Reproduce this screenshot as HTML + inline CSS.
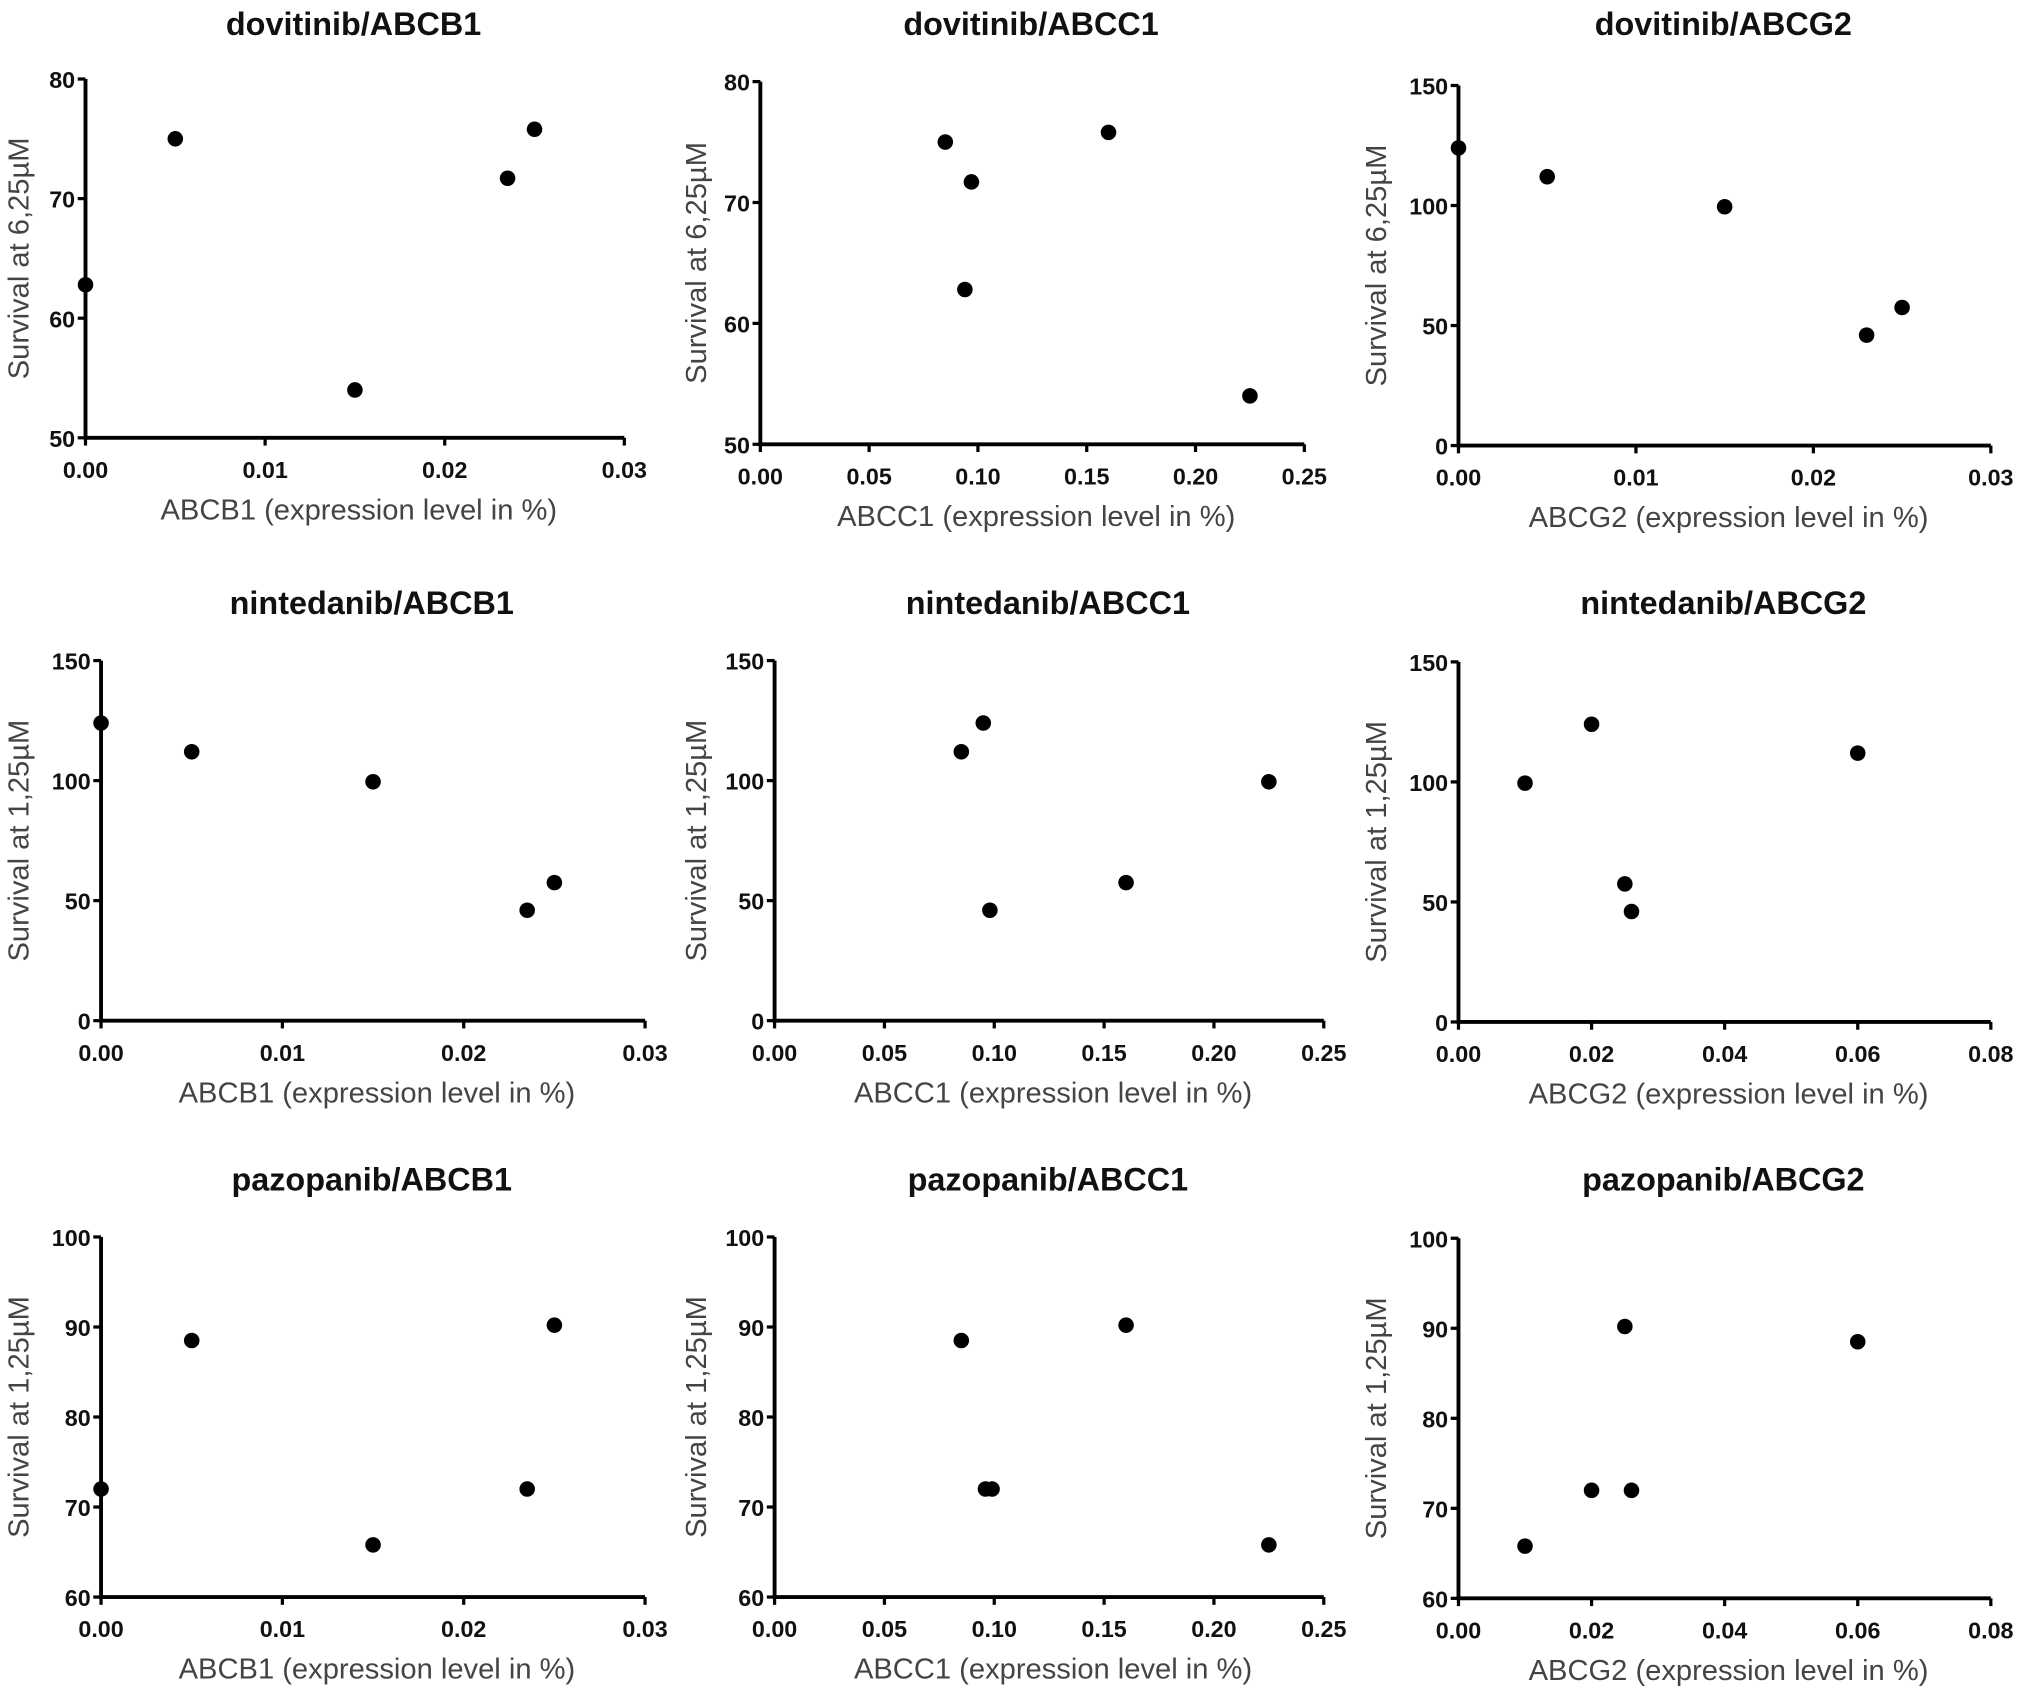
<!DOCTYPE html>
<html><head><meta charset="utf-8"><style>
html,body{margin:0;padding:0;background:#fff;}
svg{display:block;}
text{font-family:"Liberation Sans",Arial,sans-serif;}
</style></head><body>
<svg id="fig" width="2031" height="1703" viewBox="0 0 1568 1314.8" xmlns="http://www.w3.org/2000/svg"></svg>
<script>
// ---- data ----
const titles = ["dovitinib/ABCB1","dovitinib/ABCC1","dovitinib/ABCG2","nintedanib/ABCB1","nintedanib/ABCC1","nintedanib/ABCG2","pazopanib/ABCB1","pazopanib/ABCC1","pazopanib/ABCG2"];
const xLabels = ["ABCB1 (expression level in %)","ABCC1 (expression level in %)","ABCG2 (expression level in %)","ABCB1 (expression level in %)","ABCC1 (expression level in %)","ABCG2 (expression level in %)","ABCB1 (expression level in %)","ABCC1 (expression level in %)","ABCG2 (expression level in %)"];
const yLabels = ["Survival at 6,25µM","Survival at 6,25µM","Survival at 6,25µM","Survival at 1,25µM","Survival at 1,25µM","Survival at 1,25µM","Survival at 1,25µM","Survival at 1,25µM","Survival at 1,25µM"];
const xTicksB1 = ["0.00","0.01","0.02","0.03"];
const xTicksC1 = ["0.00","0.05","0.10","0.15","0.20","0.25"];
const xTicksG2a = ["0.00","0.01","0.02","0.03"];
const xTicksG2b = ["0.00","0.02","0.04","0.06","0.08"];
const yTicks5080 = ["50","60","70","80"];
const yTicks0150 = ["0","50","100","150"];
const yTicks60100 = ["60","70","80","90","100"];
const xValues = [
  [0,0.005,0.015,0.0235,0.025],
  [0.085,0.097,0.094,0.16,0.225],
  [0,0.005,0.015,0.023,0.025],
  [0,0.005,0.015,0.0235,0.025],
  [0.095,0.085,0.098,0.16,0.225],
  [0.01,0.02,0.025,0.026,0.06],
  [0,0.005,0.015,0.0235,0.025],
  [0.085,0.096,0.099,0.16,0.225],
  [0.01,0.02,0.025,0.026,0.06]
];
const yValues = [
  [62.8,75,54,71.7,75.8],
  [75,71.7,62.8,75.8,54],
  [124,112,99.5,46,57.5],
  [124,112,99.5,46,57.5],
  [124,112,46,57.5,99.5],
  [99.5,124,57.5,46,112],
  [72,88.5,65.8,72,90.2],
  [88.5,72,72,90.2,65.8],
  [65.8,72,90.2,72,88.5]
];
// ---- layout ----
const panels = [
  {x0:66,x1:482,y0:338,y1:61,xt:xTicksB1,yt:yTicks5080,ty:18,lx:14},
  {x0:587,x1:1007,y0:343,y1:63,xt:xTicksC1,yt:yTicks5080,ty:18,lx:537},
  {x0:1126,x1:1537,y0:344,y1:66,xt:xTicksG2a,yt:yTicks0150,ty:18,lx:1062},
  {x0:78,x1:498,y0:788,y1:510,xt:xTicksB1,yt:yTicks0150,ty:465,lx:14},
  {x0:598,x1:1022,y0:788,y1:510,xt:xTicksC1,yt:yTicks0150,ty:465,lx:537},
  {x0:1126,x1:1537,y0:789,y1:511,xt:xTicksG2b,yt:yTicks0150,ty:465,lx:1062},
  {x0:78,x1:498,y0:1233,y1:955,xt:xTicksB1,yt:yTicks60100,ty:910,lx:14},
  {x0:598,x1:1022,y0:1233,y1:955,xt:xTicksC1,yt:yTicks60100,ty:910,lx:537},
  {x0:1126,x1:1537,y0:1234,y1:956,xt:xTicksG2b,yt:yTicks60100,ty:910,lx:1062}
];
const NS="http://www.w3.org/2000/svg";
const svg=document.getElementById('fig');
function mk(tag,attrs,parent){const e=document.createElementNS(NS,tag);for(const k in attrs)e.setAttribute(k,attrs[k]);parent.appendChild(e);return e;}
panels.forEach((p,i)=>{
  const g=mk('g',{},svg);
  
  
  const xmin=+p.xt[0],xmax=+p.xt[p.xt.length-1],ymin=+p.yt[0],ymax=+p.yt[p.yt.length-1];
  const sx=v=>p.x0+(v-xmin)/(xmax-xmin)*(p.x1-p.x0);
  const sy=v=>p.y0-(v-ymin)/(ymax-ymin)*(p.y0-p.y1);
  const cx=(p.x0+p.x1)/2-1;
  const t=mk('text',{x:cx,y:p.ty+9,'text-anchor':'middle','font-size':25,'font-weight':'bold',fill:'#111'},g);
  t.textContent=titles[i];
  
  
  const ax=mk('path',{d:`M${p.x0},${p.y1} L${p.x0},${p.y0} L${p.x1},${p.y0}`,fill:'none',stroke:'#000','stroke-width':3},g);
  
  
  p.xt.forEach(s=>{
    const x=sx(+s);
    mk('line',{x1:x,x2:x,y1:p.y0,y2:p.y0+6,stroke:'#000','stroke-width':2.5},g);
    const tl=mk('text',{x:x,y:p.y0+31,'text-anchor':'middle','font-size':18,'font-weight':'bold',fill:'#111'},g);
    tl.textContent=s;
    
    
  });
  p.yt.forEach(s=>{
    const y=sy(+s);
    mk('line',{x1:p.x0-6,x2:p.x0,y1:y,y2:y,stroke:'#000','stroke-width':2.5},g);
    const tl=mk('text',{x:p.x0-8,y:y+7,'text-anchor':'end','font-size':18,'font-weight':'bold',fill:'#111'},g);
    tl.textContent=s;
    
    
  });
  const xl=mk('text',{x:(p.x0+p.x1)/2+3,y:p.y0+63,'text-anchor':'middle','font-size':22.5,fill:'#444'},g);
  xl.textContent=xLabels[i];
  
  
  const my=(p.y0+p.y1)/2;
  const yl=mk('text',{x:0,y:0,'text-anchor':'middle','font-size':22.5,fill:'#444',transform:`translate(${p.lx+8},${my}) rotate(-90)`},g);
  yl.textContent=yLabels[i];
  
  
  xValues[i].forEach((xv,j)=>{
    const c=mk('circle',{cx:sx(xv),cy:sy(yValues[i][j]),r:6,fill:'#000'},g);
    
    
  });
});
</script>
</body></html>
